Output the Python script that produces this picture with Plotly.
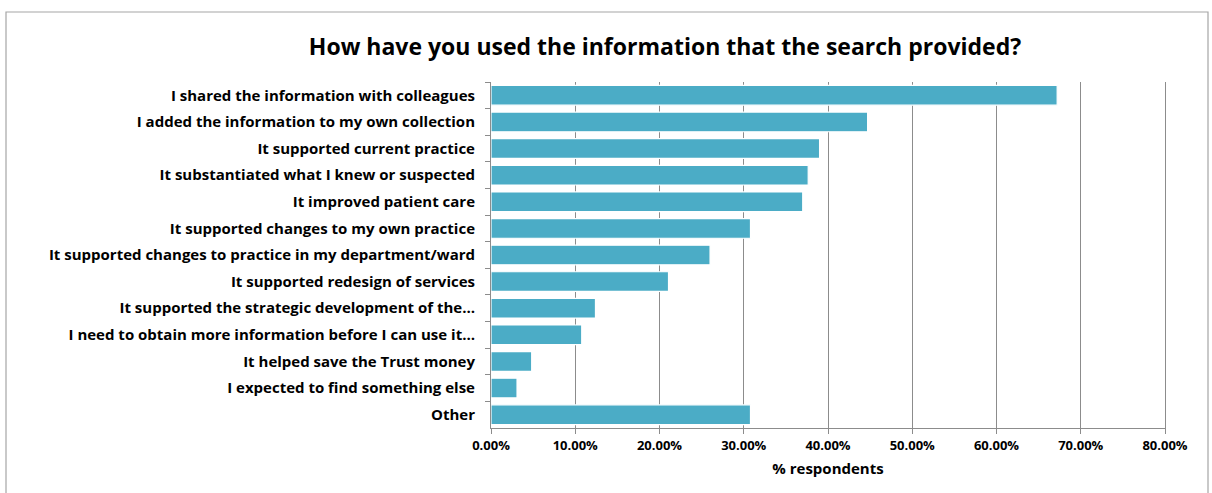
import plotly.graph_objects as go

categories = [
    "I shared the information with colleagues",
    "I added the information to my own collection",
    "It supported current practice",
    "It substantiated what I knew or suspected",
    "It improved patient care",
    "It supported changes to my own practice",
    "It supported changes to practice in my department/ward",
    "It supported redesign of services",
    "It supported the strategic development of the…",
    "I need to obtain more information before I can use it…",
    "It helped save the Trust money",
    "I expected to find something else",
    "Other",
]
values = [0.672, 0.447, 0.390, 0.3765, 0.370, 0.308, 0.260, 0.2107, 0.124, 0.1077, 0.0483, 0.0309, 0.308]
x_ticks = [0, 0.1, 0.2, 0.3, 0.4, 0.5, 0.6, 0.7, 0.8]
x_ticklabels = ["0.00%", "10.00%", "20.00%", "30.00%", "40.00%", "50.00%", "60.00%", "70.00%", "80.00%"]

FONT = "Open Sans"
GRID = "#8c8c8c"

fig = go.Figure(go.Bar(
    y=categories, x=values, orientation="h",
    marker=dict(color="#4BACC6", line=dict(color="white", width=1.2)),
    hoverinfo="x+y",
))

L, R, T, B = 491, 47, 82, 65
W, H = 1212, 493
pw, ph = W - L - R, H - T - B

fig.update_layout(
    width=W, height=H,
    margin=dict(l=L, r=R, t=T, b=B),
    paper_bgcolor="white", plot_bgcolor="white",
    bargap=0.26,
    showlegend=False,
    font=dict(family=FONT, color="black"),
    title=dict(
        text="<b>How have you used the information that the search provided?</b>",
        x=665 / W, xanchor="center", y=1 - 47 / H, yanchor="middle",
        xref="container", yref="container",
        font=dict(family=FONT, size=23, color="black"),
    ),
    xaxis=dict(
        range=[0, 0.8], tickvals=x_ticks, ticktext=x_ticklabels,
        showgrid=True, gridcolor=GRID, gridwidth=1,
        showline=True, linecolor=GRID, linewidth=1,
        ticks="outside", ticklen=5, tickcolor=GRID,
        tickfont=dict(family=FONT, size=13, color="black", weight="bold"),
        zeroline=False,
        title=dict(text="<b>% respondents</b>", font=dict(family=FONT, size=15, color="black"), standoff=10),
    ),
    yaxis=dict(
        autorange="reversed",
        showline=True, linecolor=GRID, linewidth=1, mirror=True,
        ticks="outside", ticklen=5, tickcolor=GRID, tickson="boundaries",
        tickfont=dict(family=FONT, size=15, color="black", weight="bold"),
        ticklabelstandoff=12,
        showgrid=False,
    ),
    shapes=[dict(
        type="rect", xref="paper", yref="paper",
        x0=(6 - L) / pw, x1=(1208 - L) / pw,
        y0=-0.5, y1=(H - B - 12) / ph,
        line=dict(color="#a6a6a6", width=1.2), fillcolor="rgba(0,0,0,0)", layer="below",
    )],
)

fig.write_html("out.html")
